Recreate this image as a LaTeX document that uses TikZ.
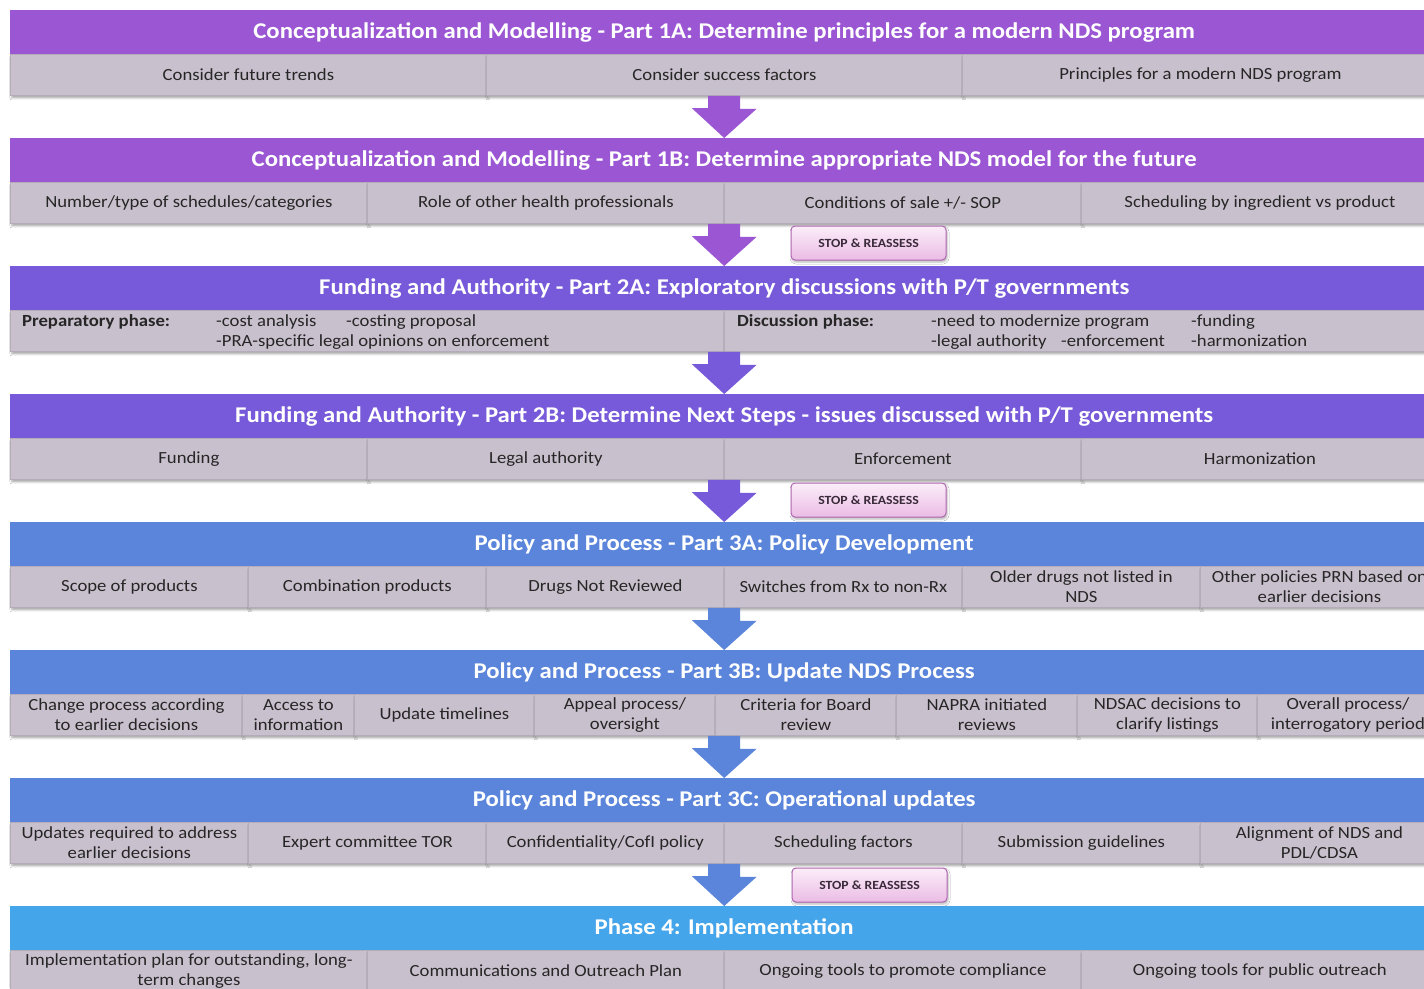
\documentclass[tikz,border=0pt]{standalone}
\usepackage{fontspec}
\setmainfont{Carlito}[FakeStretch=1.1]
\usetikzlibrary{calc,shadows.blur}

\definecolor{hdrA}{HTML}{9B57D3}
\definecolor{hdrB}{HTML}{775AD9}
\definecolor{hdrC}{HTML}{5B85DB}
\definecolor{hdrD}{HTML}{45A5EA}
\definecolor{cellfill}{HTML}{C9C0CD}
\definecolor{cellline}{HTML}{B4ACB8}
\definecolor{celltext}{HTML}{262626}
\definecolor{stopedge}{HTML}{B066B0}
\definecolor{stoptop}{HTML}{FBEDF9}
\definecolor{stopbot}{HTML}{EBBCE5}
\definecolor{stoptext}{HTML}{3A2A3A}

\tikzset{
  hdr/.style={fill=#1, anchor=north west, minimum width=1428pt, minimum height=44pt,
    inner sep=0pt, text=white, font=\fontsize{22.5}{26}\selectfont\bfseries},
  cell/.style={fill=cellfill, draw=cellline, line width=0.8pt, anchor=north west,
    minimum height=41pt, minimum width=#1, inner sep=0pt, align=center, text=celltext,
    font=\fontsize{17}{20}\selectfont,
    blur shadow={shadow xshift=1.5pt, shadow yshift=-2.5pt, shadow blur radius=2pt, shadow opacity=35}},
  phasetxt/.style={anchor=base west, inner sep=0pt, text=celltext, font=\fontsize{17}{20}\selectfont},
  stopbtn/.style={rounded corners=4pt, top color=stoptop, bottom color=stopbot, draw=stopedge,
    line width=1pt, minimum width=155pt, minimum height=34pt, inner sep=0pt, text=stoptext,
    font=\fontsize{12.5}{14}\selectfont\bfseries,
    blur shadow={shadow xshift=1pt, shadow yshift=-2pt, shadow blur radius=2pt, shadow opacity=30}}
}

% block arrow from the bottom of the row holding cell #1 down to header #2
\newcommand\flowarrow[3]{%
  \fill[#3] ($(#2.north |- #1.south)+(-16,0)$) -- ++(32,0) -- ++(0,13) -- ++(16.5,0)
    -- (#2.north) -- ($(#2.north)+(-32.5,-30)$) -- ++(16.5,0) -- cycle;}

\begin{document}
\begin{tikzpicture}[x=1pt,y=-1pt]
\useasboundingbox (0,0) rectangle (1424,988);
\clip (0,0) rectangle (1424,988);
\fill[white] (0,0) rectangle (1424,988);

% ---- Part 1A
\node[hdr=hdrA] (h1a) at (10,10) {Conceptualization and Modelling - Part 1A: Determine principles for a modern NDS program};
\node[cell=476pt] (c1a1) at (10,54)  {Consider future trends};
\node[cell=476pt] (c1a2) at (486,54) {Consider success factors};
\node[cell=476pt] (c1a3) at (962,54) {Principles for a modern NDS program};

% ---- Part 1B
\node[hdr=hdrA] (h1b) at (10,138) {Conceptualization and Modelling - Part 1B: Determine appropriate NDS model for the future};
\node[cell=357pt] (c1b1) at (10,182)   {Number/type of schedules/categories};
\node[cell=357pt] (c1b2) at (367,182)  {Role of other health professionals};
\node[cell=357pt] (c1b3) at (724,182)  {Conditions of sale +/- SOP};
\node[cell=357pt] (c1b4) at (1081,182) {Scheduling by ingredient vs product};

% ---- Part 2A
\node[hdr=hdrB] (h2a) at (10,266) {Funding and Authority - Part 2A: Exploratory discussions with P/T governments};
\node[cell=714pt] (c2a1) at (10,310)  {};
\node[cell=714pt] (c2a2) at (724,310) {};
\node[phasetxt] (prep)  at (22,326)   {\bfseries Preparatory phase:};
\node[phasetxt] (prep1) at (216,326)  {-cost analysis};
\node[phasetxt] (prep2) at (346,326)  {-costing proposal};
\node[phasetxt] (prep3) at (216,346)  {-PRA-specific legal opinions on enforcement};
\node[phasetxt] (disc)  at (737,326)  {\bfseries Discussion phase:};
\node[phasetxt] (disc1) at (931,326)  {-need to modernize program};
\node[phasetxt] (disc2) at (1191,326) {-funding};
\node[phasetxt] (disc3) at (931,346)  {-legal authority};
\node[phasetxt] (disc4) at (1061,346) {-enforcement};
\node[phasetxt] (disc5) at (1191,346) {-harmonization};

% ---- Part 2B
\node[hdr=hdrB] (h2b) at (10,394) {Funding and Authority - Part 2B: Determine Next Steps - issues discussed with P/T governments};
\node[cell=357pt] (c2b1) at (10,438)   {Funding};
\node[cell=357pt] (c2b2) at (367,438)  {Legal authority};
\node[cell=357pt] (c2b3) at (724,438)  {Enforcement};
\node[cell=357pt] (c2b4) at (1081,438) {Harmonization};

% ---- Part 3A
\node[hdr=hdrC] (h3a) at (10,522) {Policy and Process - Part 3A: Policy Development};
\node[cell=238pt] (c3a1) at (10,566)   {Scope of products};
\node[cell=238pt] (c3a2) at (248,566)  {Combination products};
\node[cell=238pt] (c3a3) at (486,566)  {Drugs Not Reviewed};
\node[cell=238pt] (c3a4) at (724,566)  {Switches from Rx to non-Rx};
\node[cell=238pt] (c3a5) at (962,566)  {Older drugs not listed in\\NDS};
\node[cell=238pt] (c3a6) at (1200,566) {Other policies PRN based on\\earlier decisions};

% ---- Part 3B
\node[hdr=hdrC] (h3b) at (10,650) {Policy and Process - Part 3B: Update NDS Process};
\node[cell=232pt] (c3b1) at (10,694)   {Change process according\\to earlier decisions};
\node[cell=112pt] (c3b2) at (242,694)  {Access to\\information};
\node[cell=180pt] (c3b3) at (354,694)  {Update timelines};
\node[cell=181pt] (c3b4) at (534,694)  {Appeal process/\\oversight};
\node[cell=181pt] (c3b5) at (715,694)  {Criteria for Board\\review};
\node[cell=181pt] (c3b6) at (896,694)  {NAPRA initiated\\reviews};
\node[cell=180pt] (c3b7) at (1077,694) {NDSAC decisions to\\clarify listings};
\node[cell=181pt] (c3b8) at (1257,694) {Overall process/\\interrogatory period};

% ---- Part 3C
\node[hdr=hdrC] (h3c) at (10,778) {Policy and Process - Part 3C: Operational updates};
\node[cell=238pt] (c3c1) at (10,822)   {Updates required to address\\earlier decisions};
\node[cell=238pt] (c3c2) at (248,822)  {Expert committee TOR};
\node[cell=238pt] (c3c3) at (486,822)  {Confidentiality/CofI policy};
\node[cell=238pt] (c3c4) at (724,822)  {Scheduling factors};
\node[cell=238pt] (c3c5) at (962,822)  {Submission guidelines};
\node[cell=238pt] (c3c6) at (1200,822) {Alignment of NDS and\\PDL/CDSA};

% ---- Phase 4
\node[hdr=hdrD] (h4) at (10,906) {Phase 4: Implementation};
\node[cell=357pt] (c41) at (10,950)   {Implementation plan for outstanding, long-\\term changes};
\node[cell=357pt] (c42) at (367,950)  {Communications and Outreach Plan};
\node[cell=357pt] (c43) at (724,950)  {Ongoing tools to promote compliance};
\node[cell=357pt] (c44) at (1081,950) {Ongoing tools for public outreach};

% ---- arrows between the stages
\flowarrow{c1a1}{h1b}{hdrA}
\flowarrow{c1b1}{h2a}{hdrA}
\flowarrow{c2a1}{h2b}{hdrB}
\flowarrow{c2b1}{h3a}{hdrB}
\flowarrow{c3a1}{h3b}{hdrC}
\flowarrow{c3b1}{h3c}{hdrC}
\flowarrow{c3c1}{h4}{hdrC}

% ---- checkpoints
\node[stopbtn] (stop1) at (868.5,243) {STOP \& REASSESS};
\node[stopbtn] (stop2) at (868.5,500) {STOP \& REASSESS};
\node[stopbtn] (stop3) at (869.5,885) {STOP \& REASSESS};
\end{tikzpicture}
\end{document}
